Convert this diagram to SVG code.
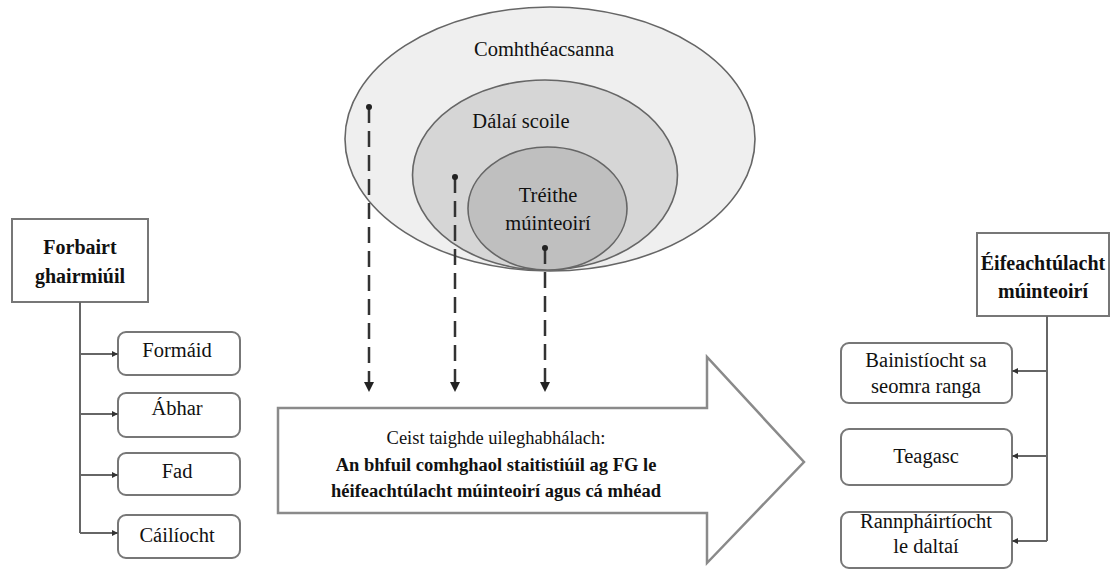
<svg xmlns="http://www.w3.org/2000/svg" width="1111" height="570" viewBox="0 0 1111 570">
  <style>
    text { font-family: "Liberation Serif", "Times New Roman", serif; }
    .t { font-size: 20.5px; fill: #111; text-anchor: middle; }
    .b { font-weight: bold; font-size: 20px; }
    .q { font-size: 18.5px; }
    .hdr { fill: #fff; stroke: #777; stroke-width: 2; }
    .item { fill: #fff; stroke: #777; stroke-width: 2; }
    .link { fill: none; stroke: #666; stroke-width: 2; }
    .dash { fill: none; stroke: #333; stroke-width: 2.5; stroke-dasharray: 16 8; }
    .ring { stroke: #666; stroke-width: 1.6; }
  </style>
  <defs>
    <marker id="tip" viewBox="0 0 6 6" refX="6" refY="3" markerWidth="6" markerHeight="6" markerUnits="userSpaceOnUse" orient="auto">
      <path d="M0,0 L6,3 L0,6 z" fill="#333"/>
    </marker>
    <marker id="down" viewBox="0 0 10 10" refX="10" refY="5" markerWidth="10" markerHeight="10" markerUnits="userSpaceOnUse" orient="auto">
      <path d="M0,0 L10,5 L0,10 z" fill="#222"/>
    </marker>
    <marker id="dot" viewBox="0 0 6 6" refX="3" refY="3" markerWidth="6" markerHeight="6" markerUnits="userSpaceOnUse">
      <circle cx="3" cy="3" r="3" fill="#222"/>
    </marker>
  </defs>

  <rect width="1111" height="570" fill="#fff"/>

  <!-- nested context ellipses -->
  <g id="contexts">
    <ellipse class="ring" cx="550" cy="139" rx="205" ry="132" fill="#efefef"/>
    <ellipse class="ring" cx="545" cy="175" rx="132.5" ry="95" fill="#d6d6d6"/>
    <ellipse class="ring" cx="547.5" cy="208.5" rx="79.5" ry="61.5" fill="#bfbfbf"/>
    <text class="t" x="544" y="56">Comhthéacsanna</text>
    <text class="t" x="521" y="128">Dálaí scoile</text>
    <text class="t" x="548" y="202">Tréithe</text>
    <text class="t" x="548" y="230">múinteoirí</text>
  </g>

  <!-- central research question arrow -->
  <g id="question">
    <path d="M278,408 L707,408 L707,357 L804,462 L707,563 L707,513 L278,513 Z" fill="#fff" stroke="#8a8a8a" stroke-width="2.5" stroke-linejoin="miter"/>
    <text class="t q" x="496" y="444">Ceist taighde uileghabhálach:</text>
    <text class="t q b" x="496" y="471">An bhfuil comhghaol staitistiúil ag FG le</text>
    <text class="t q b" x="496" y="497">héifeachtúlacht múinteoirí agus cá mhéad</text>
  </g>

  <!-- professional development -->
  <g id="pd">
    <rect class="hdr" x="12" y="219" width="136" height="83"/>
    <text class="t b" x="80" y="254">Forbairt</text>
    <text class="t b" x="80" y="283">ghairmiúil</text>
  </g>
  <g id="pd-form">
    <rect class="item" x="118" y="332" width="122" height="43" rx="8"/>
    <text class="t" x="177" y="357">Formáid</text>
  </g>
  <g id="pd-subject">
    <rect class="item" x="118" y="393" width="122" height="44" rx="8"/>
    <text class="t" x="177" y="415">Ábhar</text>
  </g>
  <g id="pd-duration">
    <rect class="item" x="118" y="453" width="122" height="42" rx="8"/>
    <text class="t" x="177" y="478">Fad</text>
  </g>
  <g id="pd-quality">
    <rect class="item" x="118" y="515" width="122" height="43" rx="8"/>
    <text class="t" x="177" y="542">Cáilíocht</text>
  </g>

  <!-- teacher effectiveness -->
  <g id="te">
    <rect class="hdr" x="977" y="233" width="132" height="83"/>
    <text class="t b" x="1043" y="270">Éifeachtúlacht</text>
    <text class="t b" x="1043" y="298">múinteoirí</text>
  </g>
  <g id="te-management">
    <rect class="item" x="841" y="343" width="171" height="60" rx="8"/>
    <text class="t" x="926" y="367">Bainistíocht sa</text>
    <text class="t" x="926" y="393">seomra ranga</text>
  </g>
  <g id="te-teaching">
    <rect class="item" x="841" y="429" width="171" height="56" rx="8"/>
    <text class="t" x="926" y="463">Teagasc</text>
  </g>
  <g id="te-engagement">
    <rect class="item" x="841" y="512" width="171" height="56" rx="8"/>
    <text class="t" x="926" y="528">Rannpháirtíocht</text>
    <text class="t" x="926" y="553">le daltaí</text>
  </g>

  <g id="connectors">
    <!-- left tree -->
    <path class="link" d="M80,302 V533"/>
    <path class="link" d="M80,354 H118" marker-end="url(#tip)"/>
    <path class="link" d="M80,414 H118" marker-end="url(#tip)"/>
    <path class="link" d="M80,475 H118" marker-end="url(#tip)"/>
    <path class="link" d="M80,533 H118" marker-end="url(#tip)"/>
    <!-- right tree -->
    <path class="link" d="M1047,316 V541"/>
    <path class="link" d="M1047,371 H1012" marker-end="url(#tip)"/>
    <path class="link" d="M1047,456 H1012" marker-end="url(#tip)"/>
    <path class="link" d="M1047,541 H1012" marker-end="url(#tip)"/>
    <!-- influences from each context level -->
    <path class="dash" d="M369,107 V392" marker-start="url(#dot)" marker-end="url(#down)"/>
    <path class="dash" d="M455,177 V392" marker-start="url(#dot)" marker-end="url(#down)"/>
    <path class="dash" d="M545,248 V392" marker-start="url(#dot)" marker-end="url(#down)"/>
  </g>
</svg>
